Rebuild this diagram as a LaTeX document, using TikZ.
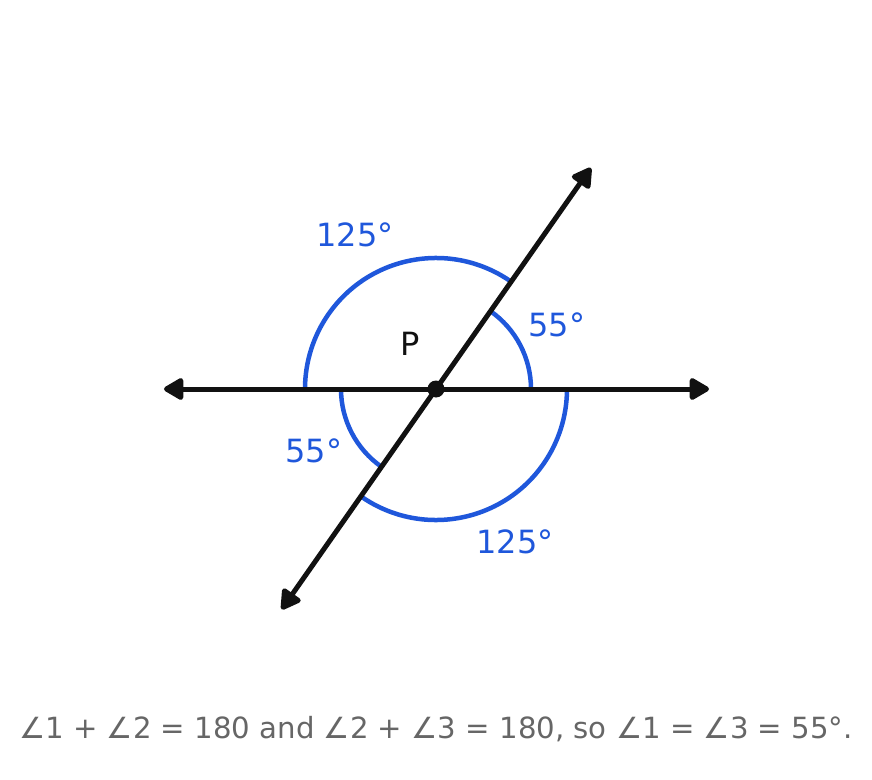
\documentclass[tikz,border=0pt]{standalone}
\usepackage{fontspec}
\setmainfont{DejaVu Sans}
\usetikzlibrary{arrows.meta}
\definecolor{angblue}{HTML}{1F57DB}
\definecolor{linek}{HTML}{111111}
\definecolor{capgray}{HTML}{666666}
\begin{document}
\begin{tikzpicture}[x=1pt,y=1pt,
  lineax/.style={draw=linek,line width=5pt,{Triangle[length=22pt,width=24pt,round]}-{Triangle[length=22pt,width=24pt,round]}},
  arcline/.style={draw=angblue,line width=4.5pt},
  anglab/.style={text=angblue,font=\fontsize{32}{36}\selectfont,inner sep=0pt},
  ptlab/.style={text=linek,font=\fontsize{32}{36}\selectfont,inner sep=0pt},
  caption/.style={text=capgray,font=\fontsize{29.2}{33}\selectfont,inner sep=0pt}]
\useasboundingbox (-436,-390) rectangle (436,389);
\coordinate (P) at (0,0);
\coordinate (L) at (-272,0);
\coordinate (R) at (273,0);
\coordinate (U) at (55:270);
\coordinate (D) at (235:269);
% arcs
\draw[arcline] (0:95) arc[start angle=0,end angle=55,radius=95];
\draw[arcline] (55:131) arc[start angle=55,end angle=180,radius=131];
\draw[arcline] (180:95) arc[start angle=180,end angle=235,radius=95];
\draw[arcline] (235:131) arc[start angle=235,end angle=360,radius=131];
% lines
\draw[lineax] (L) -- (R);
\draw[lineax] (D) -- (U);
\fill[linek] (P) circle[radius=8.5];
% labels
\node[anglab] (a1) at (-81,154) {125°};
\node[anglab] (a2) at (121,64) {55°};
\node[ptlab] (p) at (-26,45) {P};
\node[anglab] (a3) at (-122,-62) {55°};
\node[anglab] (a4) at (79,-153) {125°};
\node[caption] (cap) at (0,-340) {∠1 + ∠2 = 180 and ∠2 + ∠3 = 180, so ∠1 = ∠3 = 55°.};
\end{tikzpicture}
\end{document}
